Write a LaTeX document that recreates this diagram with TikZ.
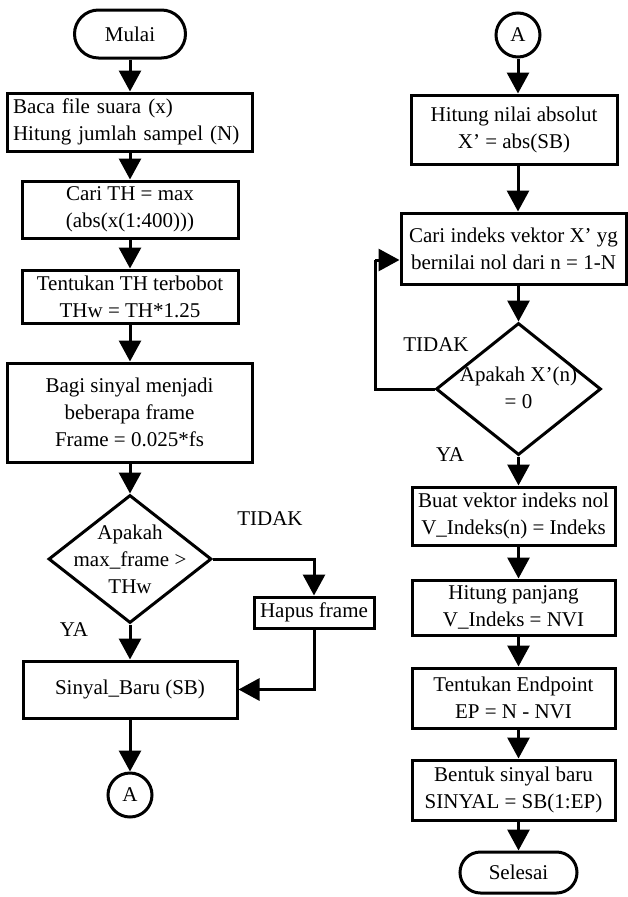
\documentclass[tikz,border=0pt]{standalone}
\usepackage{fontspec}
\setmainfont{Liberation Serif}
\usetikzlibrary{arrows.meta,shapes.geometric}
\begin{document}
\begin{tikzpicture}[x=1pt,y=-1pt,
  every node/.style={font=\fontsize{21}{27}\selectfont},
  box/.style={draw,line width=3pt,rectangle,align=center,inner sep=2pt},
  term/.style={draw,line width=3pt,rectangle,align=center,inner sep=2pt},
  conn/.style={draw,line width=3pt,circle,inner sep=0pt,minimum size=44pt},
  dia/.style={draw,line width=3pt,diamond,inner sep=0pt},
  lbl/.style={inner sep=0pt},
  arr/.style={line width=3pt,-{Triangle[length=21pt,width=22pt]}},
  ln/.style={line width=3pt}]
\useasboundingbox (0,0) rectangle (627,897);
% ---------- left column ----------
\node[term,rounded corners=24pt,minimum width=111pt,minimum height=48pt] (mulai) at (130,34) {Mulai};
\node[box,text width=233pt,align=left,inner xsep=6pt,minimum height=58pt] (b1) at (129.5,122) {Baca file suara (x)\\Hitung jumlah sampel (N)};
\node[box,minimum width=216pt,minimum height=57pt] (b2) at (130,209.5) {Cari TH = max\\(abs(x(1:400)))};
\node[box,minimum width=216pt,minimum height=53pt] (b3) at (130,296.5) {Tentukan TH terbobot\\THw = TH*1.25};
\node[box,minimum width=245pt,minimum height=99pt] (b4) at (129.5,412.5) {Bagi sinyal menjadi\\beberapa frame\\Frame = 0.025*fs};
\node[dia,minimum width=163pt,minimum height=128pt] (d1) at (130,559) {};
\node[lbl,align=center] (d1t) at (130,559) {Apakah\\max\_frame >\\THw};
\node[lbl] (tidak1) at (270,519) {TIDAK};
\node[lbl] (ya1) at (74,630) {YA};
\node[box,minimum width=120pt,minimum height=31pt] (hapus) at (314,612.5) {Hapus frame};
\node[box,minimum width=214pt,minimum height=57pt] (sb) at (130,689.5) {Sinyal\_Baru (SB)};
\node[conn] (a1) at (130,795) {A};
\draw[arr] (mulai.south) -- (b1.north -| mulai.south);
\draw[arr] (b1.south -| mulai.south) -- (b2.north);
\draw[arr] (b2.south) -- (b3.north);
\draw[arr] (b3.south) -- (b4.north -| b3.south);
\draw[arr] (b4.south -| d1.north) -- (d1.north);
\draw[arr] (d1.south) -- (sb.north);
\draw[arr] (d1.east) -| (hapus.north);
\draw[arr] (hapus.south) |- (sb.east);
\draw[arr] (sb.south) -- (a1.north);
% ---------- right column ----------
\node[conn] (a2) at (518,35) {A};
\node[box,minimum width=206pt,minimum height=69pt] (r1) at (514,129.5) {Hitung nilai absolut\\X’ = abs(SB)};
\node[box,minimum width=225pt,minimum height=71pt] (r2) at (513.5,248.5) {Cari indeks vektor X’ yg\\bernilai nol dari n = 1-N};
\node[dia,minimum width=165pt,minimum height=132pt] (d2) at (518.5,389) {};
\node[lbl,align=center] (d2t) at (518.5,388) {Apakah X’(n)\\= 0};
\node[lbl] (tidak2) at (436,345) {TIDAK};
\node[lbl] (ya2) at (450,455) {YA};
\node[box,minimum width=203pt,minimum height=58pt] (r3) at (513.5,516) {Buat vektor indeks nol\\V\_Indeks(n) = Indeks};
\node[box,minimum width=203pt,minimum height=55pt] (r4) at (513.5,607.5) {Hitung panjang\\V\_Indeks = NVI};
\node[box,minimum width=203pt,minimum height=60pt] (r5) at (513.5,698) {Tentukan Endpoint\\EP = N - NVI};
\node[box,minimum width=203pt,minimum height=60pt] (r6) at (513.5,790) {Bentuk sinyal baru\\SINYAL = SB(1:EP)};
\node[term,rounded corners=20.5pt,minimum width=117pt,minimum height=41pt] (selesai) at (518.5,872.5) {Selesai};
\coordinate (lp) at (375,260);
\draw[arr] (a2.south) -- (r1.north -| a2.south);
\draw[arr] (r1.south -| a2.south) -- (r2.north -| a2.south);
\draw[arr] (r2.south -| d2.north) -- (d2.north);
\draw[ln] (d2.west) -| (lp);
\draw[arr] (lp) -- (lp -| r2.west);
\draw[arr] (d2.south) -- (r3.north -| d2.south);
\draw[arr] (r3.south -| d2.south) -- (r4.north -| d2.south);
\draw[arr] (r4.south -| d2.south) -- (r5.north -| d2.south);
\draw[arr] (r5.south -| d2.south) -- (r6.north -| d2.south);
\draw[arr] (r6.south -| d2.south) -- (selesai.north);
\end{tikzpicture}
\end{document}
